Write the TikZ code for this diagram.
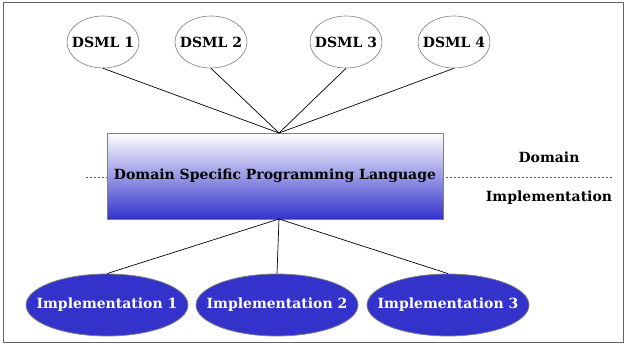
\documentclass[tikz,border=0pt]{standalone}
\usepackage{fontspec}
\setmainfont{DejaVu Serif}
\usetikzlibrary{shapes.geometric}
\definecolor{implblue}{RGB}{51,51,204}
\definecolor{midlav}{RGB}{205,205,240}
\definecolor{framegray}{RGB}{100,100,100}
\newcommand{\zw}[1]{\makebox[0pt]{#1}}
\begin{document}
\begin{tikzpicture}[x=1pt,y=-1pt,
  lbl/.style={font=\fontsize{14}{16}\selectfont\bfseries},
  dsml/.style={ellipse,draw=gray,fill=white,line width=0.6pt,minimum width=72pt,minimum height=52pt,inner sep=0pt,lbl},
  impl/.style={ellipse,draw=gray,fill=implblue,line width=0.8pt,minimum width=162pt,minimum height=62pt,inner sep=0pt,text=white,lbl},
  conn/.style={draw=black,line width=0.7pt}]
\useasboundingbox (0,0) rectangle (627,347);
\draw[framegray,line width=1pt] (3,3) rectangle (623,343);
\node[lbl] (dom) at (549,157) {Domain};
\node[lbl] (imp) at (549,198) {Implementation};
\coordinate (dl) at (86,177);
\coordinate (dr) at (612,177);
\draw[dashed,dash pattern=on 2pt off 2pt,line width=0.5pt,gray!70!black] (dl) -- (dr);
\node[draw=gray,line width=0.8pt,minimum width=336pt,minimum height=86pt,inner sep=0pt,
  top color=white,middle color=midlav,bottom color=implblue,lbl] (dspl) at (275,176) {Domain Specific Programming Language};
\coordinate (top) at (279,133);
\coordinate (bot) at (279,219);
\node[dsml] (d1) at (103,42) {\zw{DSML 1}};
\node[dsml] (d2) at (211,42) {\zw{DSML 2}};
\node[dsml] (d3) at (346,42) {\zw{DSML 3}};
\node[dsml] (d4) at (454,42) {\zw{DSML 4}};
\node[impl] (i1) at (107,305) {\zw{Implementation 1}};
\node[impl] (i2) at (277,305) {\zw{Implementation 2}};
\node[impl] (i3) at (448,305) {\zw{Implementation 3}};
\foreach \n in {d1,d2,d3,d4} \draw[conn] (\n.south) -- (top);
\draw[conn] (bot) -- (i1.north);
\draw[conn] (bot) -- (i2.north);
\draw[conn] (bot) -- (i3.north);
\end{tikzpicture}
\end{document}
